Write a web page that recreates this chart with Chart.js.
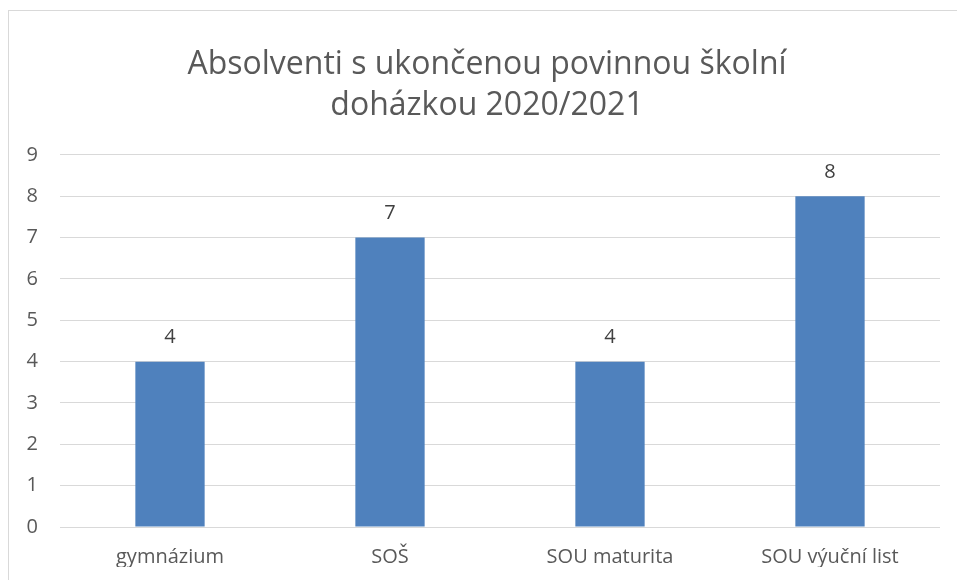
<!DOCTYPE html>
<html>
<head>
<meta charset="utf-8">
<script src="https://cdn.jsdelivr.net/npm/chart.js@4"></script>
<style>
  html, body { margin: 0; padding: 0; background: #fff; overflow: hidden; }
  #frame {
    position: absolute; left: 8px; top: 10px;
    width: 960px; height: 569px;
    border-top: 1px solid #d9d9d9; border-left: 1px solid #d9d9d9;
  }
</style>
</head>
<body>
<div id="frame"><canvas id="absolventiChart" width="956" height="569"></canvas></div>
<script>
const categories = ['gymnázium', 'SOŠ', 'SOU maturita', 'SOU výuční list'];
const counts = [4, 7, 4, 8];
const yTicks = [0, 1, 2, 3, 4, 5, 6, 7, 8, 9];

const fontName = 'Open Sans';
const textGray = '#595959';

// popisky hodnot nad sloupci
const valueLabels = {
    id: 'valueLabels',
    afterDatasetsDraw(chart) {
        const ctx = chart.ctx;
        const meta = chart.getDatasetMeta(0);
        ctx.save();
        ctx.font = '20px "' + fontName + '"';
        ctx.fillStyle = '#404040';
        ctx.textAlign = 'center';
        ctx.textBaseline = 'middle';
        meta.data.forEach((bar, i) => {
            ctx.fillText(counts[i], bar.x, bar.y - 24);
        });
        ctx.restore();
    }
};

const ctx1 = document.getElementById('absolventiChart').getContext('2d');
const absolventiChart = new Chart(ctx1, {
    type: 'bar',
    data: {
        labels: categories,
        datasets: [{
            label: 'Absolventi',
            data: counts,
            backgroundColor: '#4f81bd',
            barPercentage: 0.315,
            categoryPercentage: 1
        }]
    },
    options: {
        responsive: false,
        animation: false,
        layout: { padding: { left: 0, right: 0, top: 0, bottom: 13 } },
        plugins: {
            legend: { display: false },
            tooltip: { enabled: false },
            title: {
                display: true,
                text: ['Absolventi s ukončenou povinnou školní', 'doházkou 2020/2021'],
                color: textGray,
                font: { family: fontName, size: 32, weight: 'normal', lineHeight: 1.28 },
                padding: { top: 33, bottom: 29 }
            }
        },
        scales: {
            x: {
                afterFit(scale) { scale.height = 40; },
                grid: { display: false, drawTicks: false },
                border: { display: false },
                ticks: { color: textGray, font: { family: fontName, size: 20 }, padding: 18 }
            },
            y: {
                min: 0,
                max: 9,
                afterBuildTicks(scale) {
                    scale.ticks = yTicks.map(v => ({ value: v }));
                },
                afterFit(scale) { scale.width = 51; },
                grid: { color: '#d9d9d9', lineWidth: 1, drawTicks: false },
                border: { display: false },
                ticks: { color: textGray, font: { family: fontName, size: 20 }, padding: 22 }
            },
            // prázdné místo vpravo od grafu
            yRight: {
                type: 'linear',
                position: 'right',
                afterFit(scale) { scale.width = 25; },
                grid: { display: false, drawTicks: false },
                border: { display: false },
                ticks: { display: false }
            }
        }
    },
    plugins: [valueLabels]
});
</script>
</body>
</html>
